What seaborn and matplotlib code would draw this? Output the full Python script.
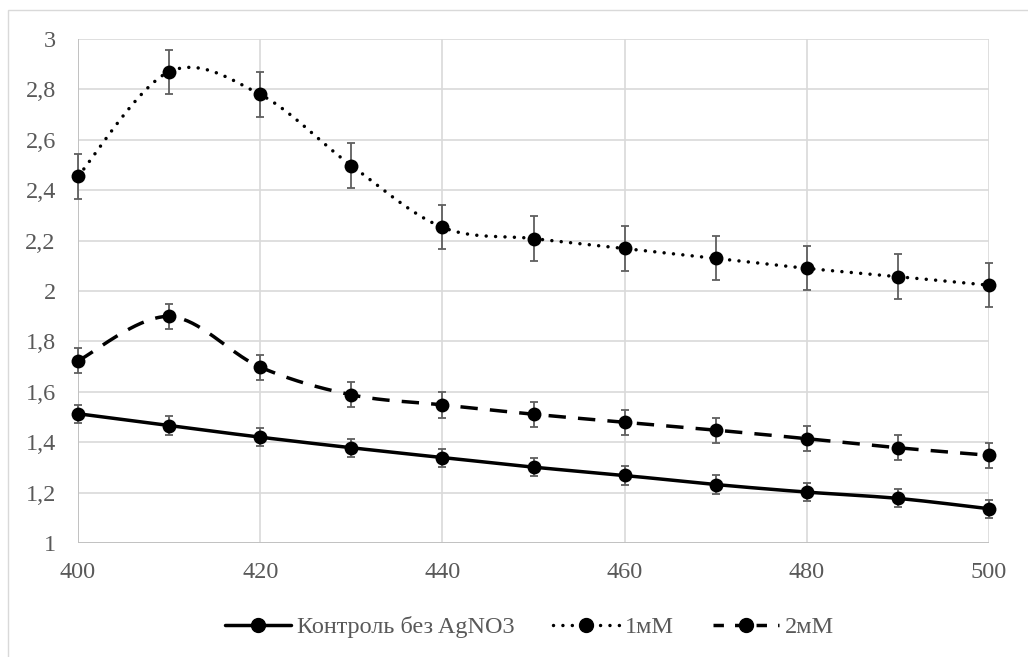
import numpy as np
import pandas as pd
import matplotlib
matplotlib.use("Agg")
import matplotlib.pyplot as plt
from matplotlib.lines import Line2D
from matplotlib.patches import Rectangle
import seaborn as sns

# Wavelength, nm
wavelength = [400, 410, 420, 430, 440, 450, 460, 470, 480, 490, 500]

# Optical density per series
control = [1.513, 1.466, 1.420, 1.378, 1.339, 1.301, 1.268, 1.232, 1.202, 1.177, 1.136]
mm1 = [2.455, 2.870, 2.780, 2.498, 2.253, 2.208, 2.169, 2.130, 2.090, 2.057, 2.023]
mm2 = [1.723, 1.899, 1.698, 1.588, 1.548, 1.511, 1.479, 1.448, 1.414, 1.378, 1.348]

# Error bar half-widths per series
err_control = 0.036
err_mm1 = 0.088
err_mm2 = 0.050

labels = ["Контроль без AgNO3", "1мМ", "2мМ"]
x_ticks = [400, 420, 440, 460, 480, 500]
y_ticks = [1, 1.2, 1.4, 1.6, 1.8, 2, 2.2, 2.4, 2.6, 2.8, 3]

sns.set_theme(style="white")
plt.rcParams["font.family"] = ["Liberation Serif", "DejaVu Serif"]

TEXT = "#595959"
GRID = "#d9d9d9"
ERR = "#5f5f5f"
FS = 17.5
LEG_FS = 17.5

DOTTED = (0, (0.01, 2.7))
DASHED = (0, (5, 3.5))


def smooth(xs, ys, n=40):
    """Bezier smoothing through the points (Catmull-Rom control points)."""
    P = np.column_stack([xs, ys]).astype(float)
    out = []
    m = len(P)
    t = np.linspace(0, 1, n)[:, None]
    for i in range(m - 1):
        p0 = P[i - 1] if i > 0 else P[i]
        p1, p2 = P[i], P[i + 1]
        p3 = P[i + 2] if i + 2 < m else P[i + 1]
        c1 = p1 + (p2 - p0) / 6.0
        c2 = p2 - (p3 - p1) / 6.0
        seg = ((1 - t) ** 3) * p1 + 3 * ((1 - t) ** 2) * t * c1 + 3 * (1 - t) * t ** 2 * c2 + t ** 3 * p2
        out.append(seg if i == 0 else seg[1:])
    S = np.vstack(out)
    return S[:, 0], S[:, 1]


fig = plt.figure(figsize=(10.28, 6.57), dpi=100)
fig.patch.set_facecolor("white")
ax = fig.add_axes([78 / 1028, 1 - 543 / 657, (989 - 78) / 1028, (543 - 39) / 657])

# Outer chart frame
fig.patches.append(Rectangle((8 / 1028, -0.05), 1.2, 1 - 10 / 657 + 0.05,
                             transform=fig.transFigure, fill=False,
                             edgecolor=GRID, linewidth=1.0, zorder=0))

series = [
    (control, err_control, "-", "butt"),
    (mm1, err_mm1, DOTTED, "round"),
    (mm2, err_mm2, DASHED, "butt"),
]

lw = 2.5
for vals, err, ls, cap in series:
    sx, sy = smooth(wavelength, vals)
    curve = pd.DataFrame({"x": sx, "y": sy})
    ax.plot(curve["x"], curve["y"], color="black", linewidth=lw, linestyle=ls,
            dash_capstyle=cap, solid_capstyle="butt", zorder=3)
    ax.errorbar(wavelength, vals, yerr=err, fmt="none", ecolor=ERR,
                elinewidth=1.3, capsize=3.2, capthick=1.3, zorder=4, clip_on=False)
    pts = pd.DataFrame({"x": wavelength, "y": vals})
    sns.scatterplot(data=pts, x="x", y="y", ax=ax, color="black", s=100,
                    edgecolor="black", linewidth=0, zorder=5, clip_on=False)

ax.set_xlim(400, 500)
ax.set_ylim(1, 3)
ax.set_xticks(x_ticks)
ax.set_yticks(y_ticks)
ax.set_xticklabels([str(v) for v in x_ticks])
ax.set_yticklabels([f"{v:g}".replace(".", ",") for v in y_ticks])
ax.grid(True, color=GRID, linewidth=1.2)
ax.set_axisbelow(True)
for side in ["top", "right", "bottom", "left"]:
    ax.spines[side].set_visible(False)
ax.axvline(400, color="#bfbfbf", linewidth=1.3, zorder=1)
ax.axhline(1, color="#bfbfbf", linewidth=1.3, zorder=1)
ax.tick_params(axis="both", length=0, labelsize=FS, labelcolor=TEXT)
ax.tick_params(axis="x", pad=14)
ax.tick_params(axis="y", pad=16)
ax.set_xlabel("")
ax.set_ylabel("")

handles = [
    Line2D([0], [0], color="black", linewidth=lw, linestyle="-", marker="o", markersize=10),
    Line2D([0], [0], color="black", linewidth=lw, linestyle=DOTTED,
           dash_capstyle="round", marker="o", markersize=10),
    Line2D([0], [0], color="black", linewidth=lw, linestyle=(0, (3, 3.2)),
           marker="o", markersize=10),
]
leg = fig.legend(handles, labels, loc="center", bbox_to_anchor=(0.515, 1 - 627 / 657),
                 ncol=3, frameon=False, fontsize=LEG_FS, handlelength=2.7,
                 columnspacing=1.6, handletextpad=0.25)
for t in leg.get_texts():
    t.set_color(TEXT)

fig.savefig("out.png", dpi=100, facecolor="white")
